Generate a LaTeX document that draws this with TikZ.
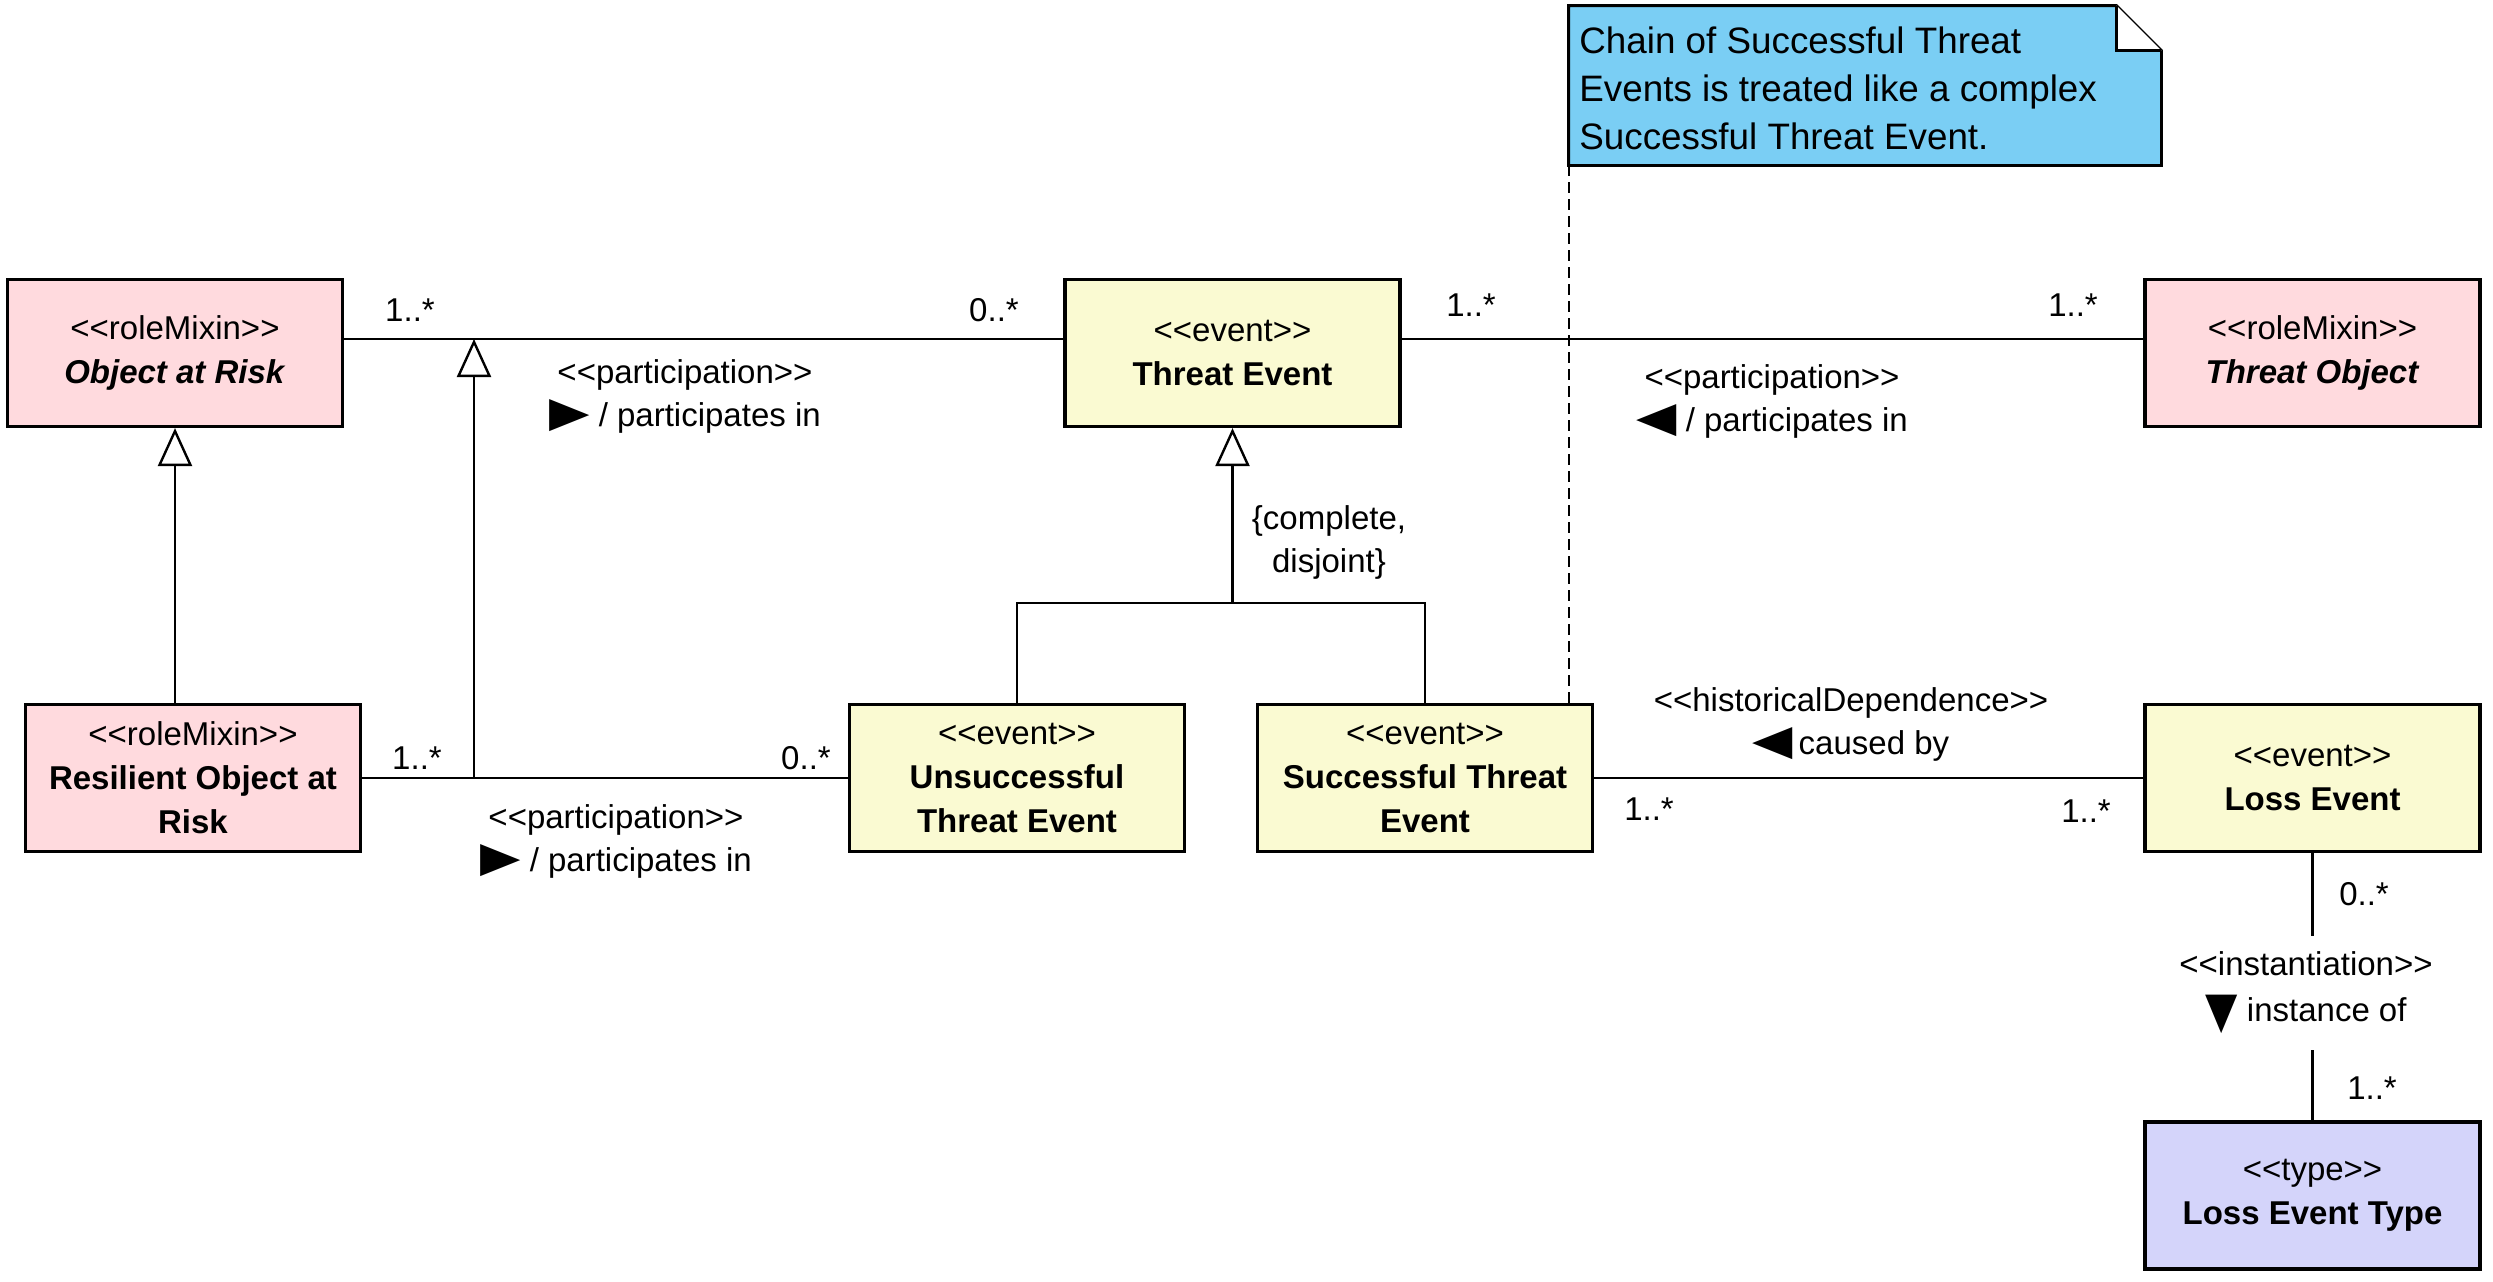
\documentclass[tikz,border=0pt]{standalone}
\usepackage{fontspec}
\setmainfont{Liberation Sans}[Ligatures=TeXOff]
\newfontfamily\symfont{DejaVu Sans}
\usetikzlibrary{arrows.meta}
\definecolor{pinkfill}{RGB}{255,218,222}
\definecolor{yellowfill}{RGB}{250,250,210}
\definecolor{typefill}{RGB}{212,212,250}
\definecolor{notefill}{RGB}{122,206,244}
\newcommand\hglyph[1]{{\symfont\fontsize{21}{21.5}\selectfont\scalebox{1.25}[1]{#1}}}
\newcommand\vglyph[1]{{\symfont\fontsize{21}{21.5}\selectfont\raisebox{-3pt}{\scalebox{1}[1.2]{#1}}}}
\tikzset{
 cls/.style={draw, line width=1.6pt, minimum width=167.5pt, minimum height=73.5pt, align=center, inner sep=2pt, font=\fontsize{16.5}{22}\selectfont},
 role/.style={cls, fill=pinkfill},
 evt/.style={cls, fill=yellowfill},
 typ/.style={cls, fill=typefill},
 assoc/.style={line width=1.2pt},
 gen/.style={line width=1.2pt, -{Triangle[open, length=19pt, width=17pt]}},
 mult/.style={font=\fontsize{16.5}{20}\selectfont, inner sep=0pt},
 lbl/.style={font=\fontsize{16.5}{21.5}\selectfont, align=center, inner sep=0pt},
}
\begin{document}
\begin{tikzpicture}[x=0.5pt, y=-0.5pt]
\useasboundingbox (0,0) rectangle (2493,1281);

% class nodes
\node[role] (oar) at (175,353) {<<roleMixin>>\\\textbf{\textit{Object at Risk}}};
\node[evt]  (te)  at (1232.5,353) {<<event>>\\\textbf{Threat Event}};
\node[role] (to)  at (2312.5,353) {<<roleMixin>>\\\textbf{\textit{Threat Object}}};
\node[role] (roar) at (193,778) {<<roleMixin>>\\\textbf{Resilient Object at}\\\textbf{Risk}};
\node[evt]  (ute) at (1017,778) {<<event>>\\\textbf{Unsuccessful}\\\textbf{Threat Event}};
\node[evt]  (ste) at (1425,778) {<<event>>\\\textbf{Successful Threat}\\\textbf{Event}};
\node[evt]  (le)  at (2312.5,778) {<<event>>\\\textbf{Loss Event}};
\node[typ]  (let) at (2312.5,1195.5) {<<type>>\\\textbf{Loss Event Type}};

% note
\node[minimum width=296pt, minimum height=79.5pt, inner sep=0pt] (note) at (1865,85.5) {};
\draw[fill=notefill, line width=1.4pt] (note.south west) -- (note.north west) -- ([xshift=-22.5pt]note.north east) -- ([yshift=-22.5pt]note.north east) -- (note.south east) -- cycle;
\draw[fill=white, line width=1.4pt] ([xshift=-22.5pt]note.north east) -- ([xshift=-22.5pt,yshift=-22.5pt]note.north east) -- ([yshift=-22.5pt]note.north east);
\node[anchor=north west, align=left, inner sep=0pt, font=\fontsize{18.4}{24}\selectfont] (notetext) at (1579,26) {Chain of Successful Threat\\Events is treated like a complex\\Successful Threat Event.};
\draw[line width=1pt, dash pattern=on 5.5pt off 3pt] (note.south west) -- (note.south west |- ste.north);

% associations
\draw[assoc] ([yshift=7pt]oar.east) -- ([yshift=7pt]te.west);
\draw[assoc] ([yshift=7pt]te.east) -- ([yshift=7pt]to.west);
\draw[assoc] (roar.east) -- (ute.west);
\draw[assoc] (ste.east) -- (le.west);
\draw[assoc] (le.south) -- (let.north);

% generalizations
\draw[gen] (roar.north -| oar.south) -- (oar.south);
\coordinate (p1) at (474,339);
\coordinate (p2) at (474,778);
\draw[gen] (p2) -- (p1);
\coordinate (gs) at (1232.5,603);
\draw[assoc] (ute.north) |- (gs) -| (ste.north);
\draw[gen] (gs) -- (te.south);
\node[lbl] (gsl) at (1329,542) {\{complete,\\disjoint\}};

% multiplicities
\node[mult] (m1) at (410,310) {1..*};
\node[mult] (m2) at (994,310) {0..*};
\node[mult] (m3) at (1471,305) {1..*};
\node[mult] (m4) at (2073,305) {1..*};
\node[mult] (m5) at (417,758) {1..*};
\node[mult] (m6) at (806,758) {0..*};
\node[mult] (m7) at (1649,809) {1..*};
\node[mult] (m8) at (2086,811) {1..*};
\node[mult] (m9) at (2364,894) {0..*};
\node[mult] (m10) at (2372,1088) {1..*};

% association labels
\node[lbl] (a1) at (685,396) {<<participation>>\\\hglyph{▶} / participates in};
\node[lbl] (a2) at (1772,401) {<<participation>>\\\hglyph{◀} / participates in};
\node[lbl] (a3) at (616,841) {<<participation>>\\\hglyph{▶} / participates in};
\node[lbl] (a4) at (1851,724) {<<historicalDependence>>\\\hglyph{◀}\,caused by};
\node[lbl, fill=white, inner ysep=8pt, inner xsep=4pt, font=\fontsize{16.5}{23}\selectfont] (a5) at (2306,993) {<<instantiation>>\\\vglyph{▼} instance of};
\end{tikzpicture}
\end{document}
